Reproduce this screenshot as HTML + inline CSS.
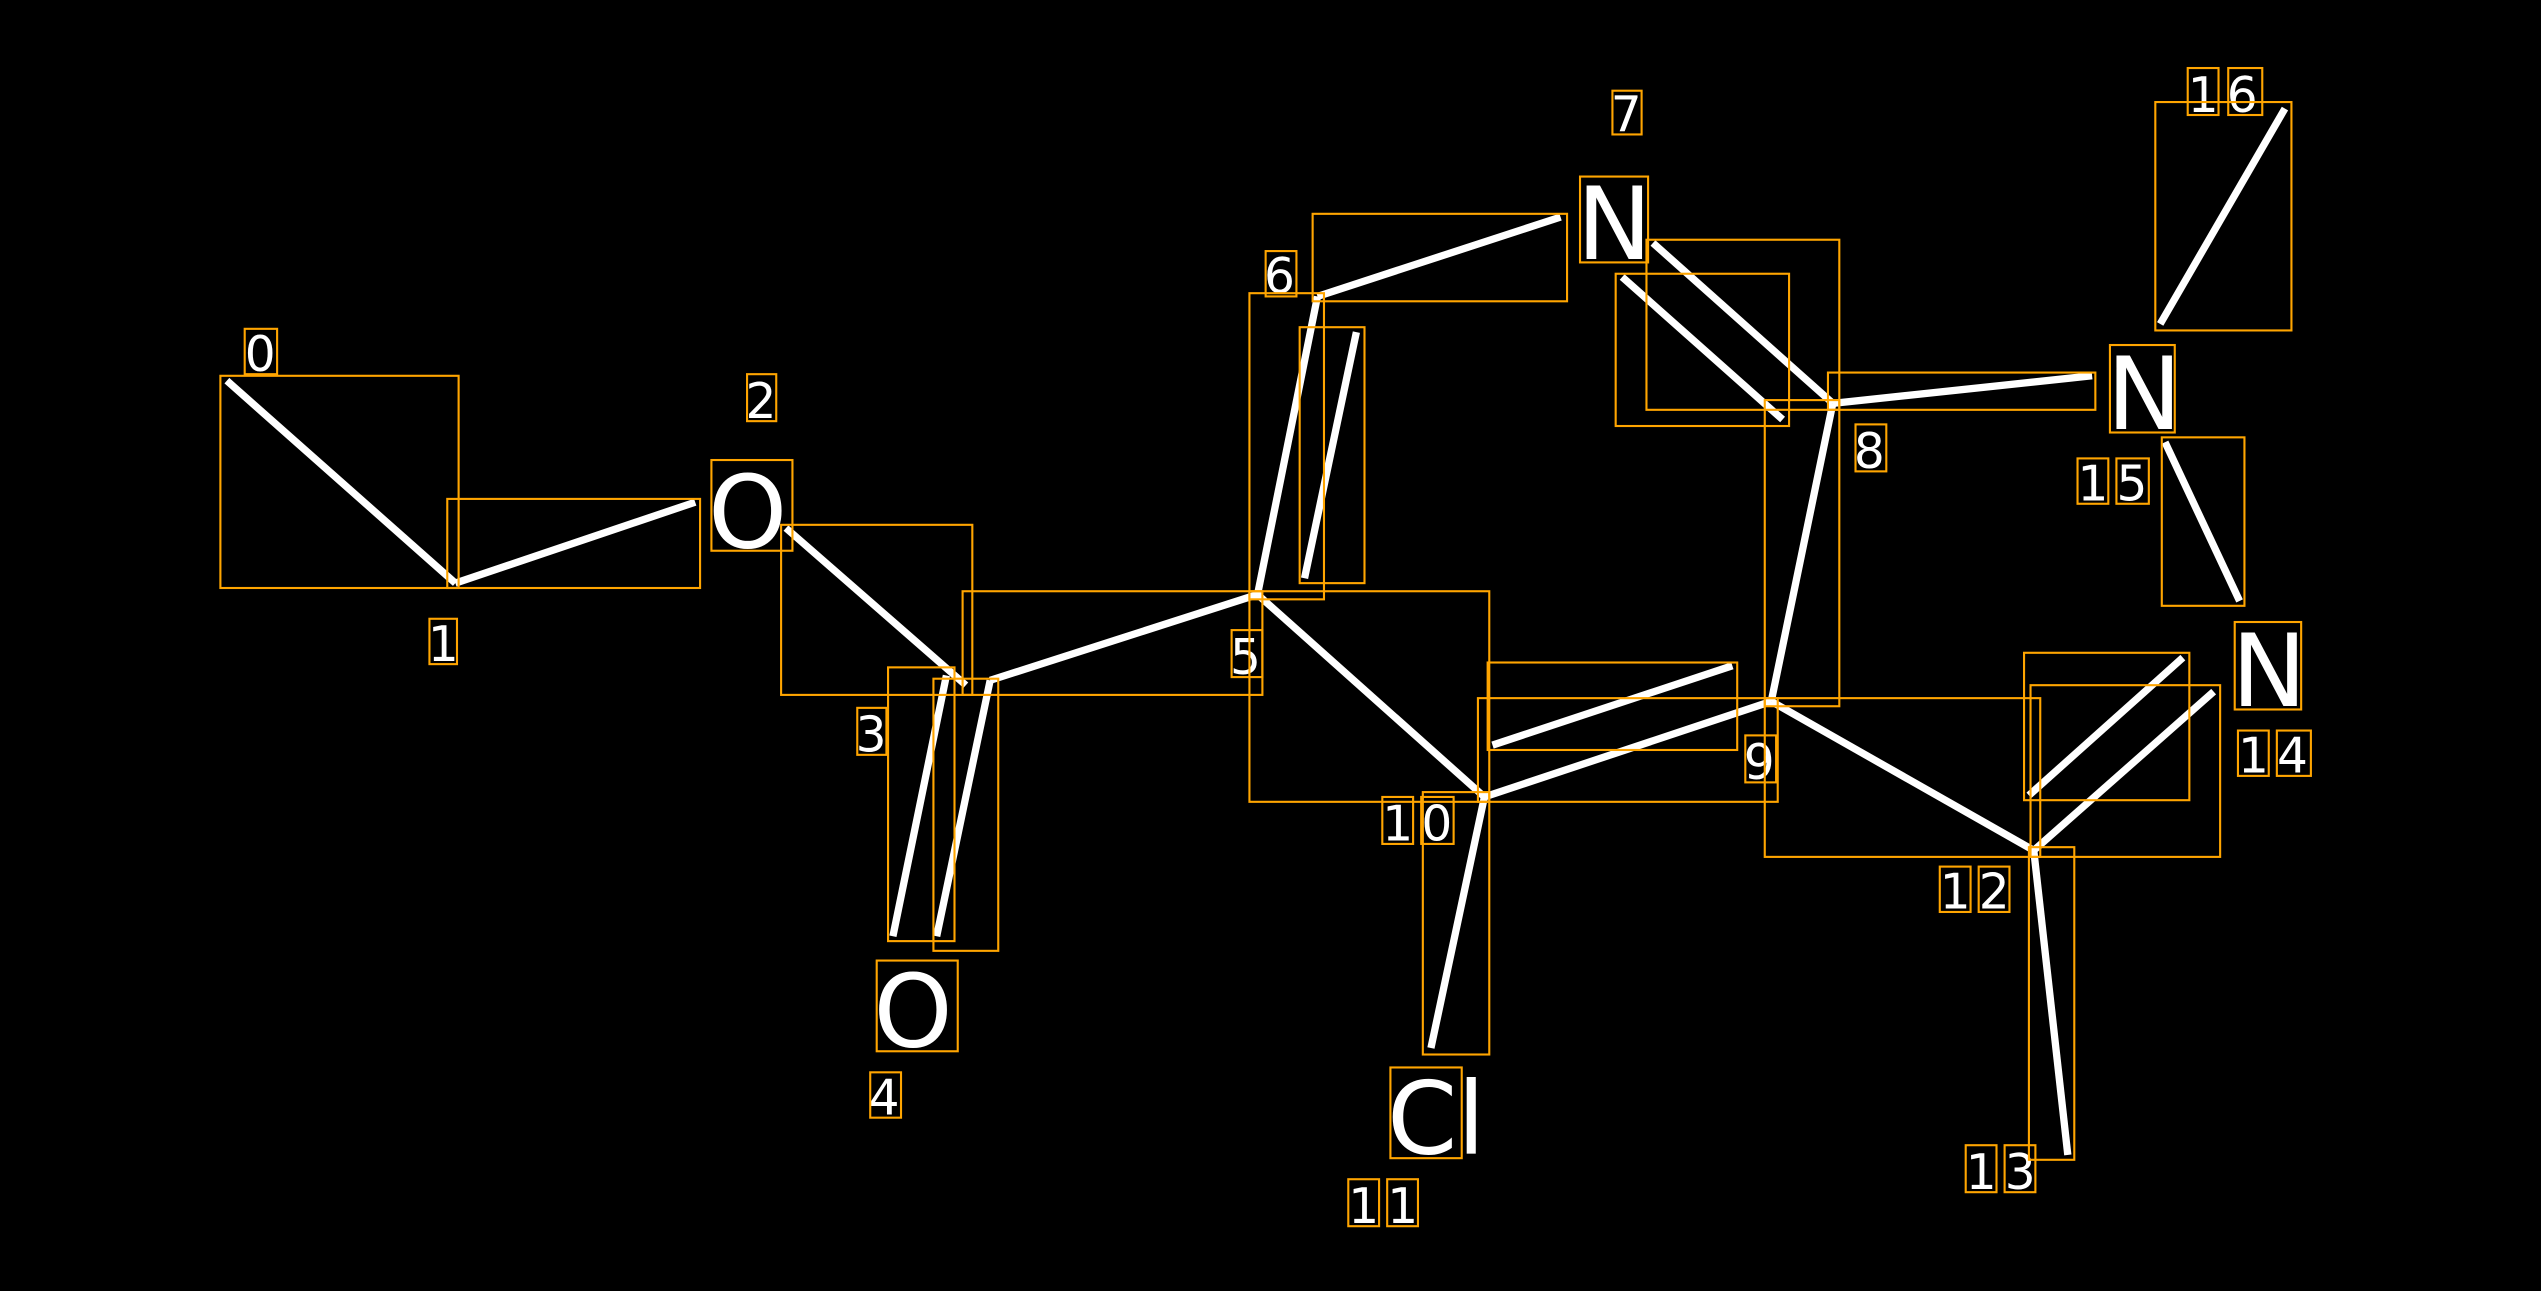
<!DOCTYPE html>
<html><head><meta charset="utf-8"><style>
html,body{margin:0;padding:0;background:#000;width:2541px;height:1291px;overflow:hidden}
svg{display:block}
text{font-family:"DejaVu Sans","Liberation Sans",sans-serif;fill:#fff}
</style></head><body>
<svg width="2541" height="1291" viewBox="0 0 1568 797" preserveAspectRatio="none">
<rect width="1568" height="797" fill="#000"/>
<g stroke="#fff" stroke-width="4.5" stroke-linecap="butt" fill="none">
<line x1="140" y1="235" x2="281" y2="360"/>
<line x1="281" y1="360" x2="429" y2="310"/>
<line x1="485" y1="326" x2="596" y2="423"/>
<line x1="551" y1="578" x2="584" y2="417"/>
<line x1="578" y1="578" x2="611" y2="420"/>
<line x1="611" y1="420" x2="776" y2="367"/>
<line x1="776" y1="367" x2="813" y2="183"/>
<line x1="805" y1="357" x2="837" y2="205"/>
<line x1="813" y1="183" x2="963" y2="134"/>
<line x1="1020" y1="150" x2="1131" y2="249"/>
<line x1="1001" y1="171" x2="1100" y2="259"/>
<line x1="1131" y1="249" x2="1291" y2="232"/>
<line x1="1131" y1="249" x2="1093" y2="433"/>
<line x1="1093" y1="433" x2="916" y2="492"/>
<line x1="921" y1="460" x2="1069" y2="411"/>
<line x1="776" y1="367" x2="916" y2="492"/>
<line x1="916" y1="492" x2="883" y2="647"/>
<line x1="1093" y1="433" x2="1255" y2="525"/>
<line x1="1255" y1="525" x2="1276" y2="713"/>
<line x1="1255" y1="525" x2="1366" y2="427"/>
<line x1="1252" y1="491" x2="1347" y2="406"/>
<line x1="1336" y1="273" x2="1382" y2="371"/>
<line x1="1333" y1="200" x2="1410" y2="67"/>
</g>
<g font-size="62">
<text x="437" y="338">O</text>
<text x="539" y="646">O</text>
<text x="973" y="160">N</text>
<text x="856" y="712">Cl</text>
<text x="1300" y="265">N</text>
<text x="1377" y="436">N</text>
</g>
<g font-size="30">
<text x="151" y="229">0</text>
<text x="264" y="408">1</text>
<text x="460" y="258">2</text>
<text x="528" y="464">3</text>
<text x="536" y="688">4</text>
<text x="759" y="416">5</text>
<text x="780" y="181">6</text>
<text x="994" y="81">7</text>
<text x="1144" y="289">8</text>
<text x="1076" y="481">9</text>
<text x="853" y="519" letter-spacing="5">10</text>
<text x="832" y="755" letter-spacing="5">11</text>
<text x="1197" y="561" letter-spacing="5">12</text>
<text x="1213" y="734" letter-spacing="5">13</text>
<text x="1381" y="477" letter-spacing="5">14</text>
<text x="1282" y="309" letter-spacing="5">15</text>
<text x="1350" y="69" letter-spacing="5">16</text>
</g>
<g stroke="#ffa500" stroke-width="1.3" fill="none">
<rect x="136" y="232" width="147" height="131"/>
<rect x="276" y="308" width="156" height="55"/>
<rect x="439" y="284" width="50" height="56"/>
<rect x="482" y="324" width="118" height="105"/>
<rect x="594" y="365" width="185" height="64"/>
<rect x="548" y="412" width="41" height="169"/>
<rect x="576" y="419" width="40" height="168"/>
<rect x="541" y="593" width="50" height="56"/>
<rect x="771" y="181" width="46" height="189"/>
<rect x="802" y="202" width="40" height="158"/>
<rect x="810" y="132" width="157" height="54"/>
<rect x="975" y="109" width="42" height="53"/>
<rect x="1016" y="148" width="119" height="105"/>
<rect x="997" y="169" width="107" height="94"/>
<rect x="1128" y="230" width="165" height="23"/>
<rect x="1089" y="247" width="46" height="189"/>
<rect x="771" y="365" width="148" height="130"/>
<rect x="918" y="409" width="154" height="54"/>
<rect x="912" y="431" width="185" height="64"/>
<rect x="878" y="489" width="41" height="162"/>
<rect x="858" y="659" width="44" height="56"/>
<rect x="1089" y="431" width="170" height="98"/>
<rect x="1249" y="403" width="102" height="91"/>
<rect x="1253" y="423" width="117" height="106"/>
<rect x="1252" y="523" width="28" height="193"/>
<rect x="1302" y="213" width="40" height="54"/>
<rect x="1334" y="270" width="51" height="104"/>
<rect x="1330" y="63" width="84" height="141"/>
<rect x="1379" y="384" width="41" height="54"/>
<rect x="151" y="203" width="20" height="28"/>
<rect x="265" y="382" width="17" height="28"/>
<rect x="461" y="231" width="18" height="29"/>
<rect x="529" y="437" width="18" height="29"/>
<rect x="537" y="662" width="19" height="28"/>
<rect x="760" y="389" width="19" height="29"/>
<rect x="781" y="155" width="19" height="28"/>
<rect x="995" y="56" width="18" height="27"/>
<rect x="1145" y="262" width="19" height="29"/>
<rect x="1077" y="454" width="19" height="29"/>
<rect x="853" y="492" width="19" height="29"/><rect x="877" y="492" width="20" height="29"/>
<rect x="832" y="728" width="19" height="29"/><rect x="856" y="728" width="19" height="29"/>
<rect x="1197" y="535" width="19" height="28"/><rect x="1221" y="535" width="19" height="28"/>
<rect x="1213" y="707" width="19" height="29"/><rect x="1237" y="707" width="19" height="29"/>
<rect x="1381" y="451" width="19" height="28"/><rect x="1405" y="451" width="21" height="28"/>
<rect x="1282" y="283" width="19" height="28"/><rect x="1306" y="283" width="20" height="28"/>
<rect x="1350" y="42" width="19" height="29"/><rect x="1375" y="42" width="21" height="29"/>
</g>
</svg>
</body></html>
